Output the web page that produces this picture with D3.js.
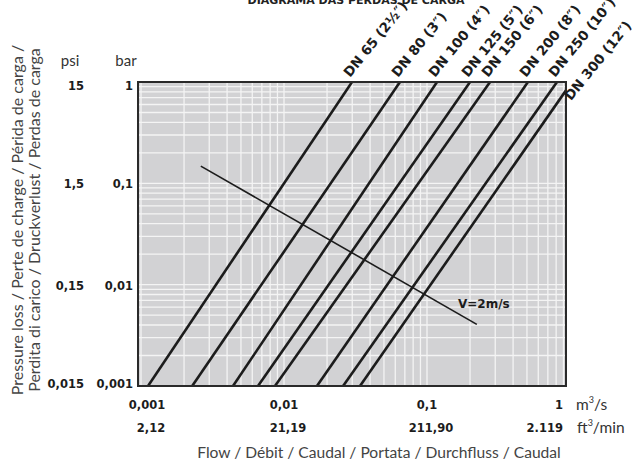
<!DOCTYPE html>
<html>
<head>
<meta charset="utf-8">
<script src="https://cdn.jsdelivr.net/npm/d3@7"></script>
<style>
  html, body { margin: 0; padding: 0; background: #fff; }
  svg { display: block; font-family: Lato, "Noto Sans", sans-serif; }
  .bold { font-family: "DejaVu Sans", sans-serif; font-weight: 700; }
</style>
</head>
<body>
<svg id="chart" width="641" height="460"></svg>
<script>
// Pipe sizes and the flow (m³/s) each one carries at the lowest and highest pressure loss shown
const categories = ["DN 65 (2¹⁄₂″)", "DN 80 (3″)", "DN 100 (4″)", "DN 125 (5″)",
                    "DN 150 (6″)", "DN 200 (8″)", "DN 250 (10″)", "DN 300 (12″)"];
const lossEnds = [0.001, 1]; // bar
const flowAtLowLoss  = [0.00112, 0.00228, 0.00440, 0.00658, 0.00865, 0.0170, 0.0259, 0.0340];
const flowAtHighLoss = [0.0299, 0.0647, 0.1175, 0.200, 0.276, 0.508, 0.811, 1.03];

// Constant-velocity guide (2 m/s)
const velocityFlow = [0.00262, 0.223];
const velocityLoss = [0.148, 0.00406];
const velocityLabel = "V=2m/s";

// Axis ticks and their labels
const barTicks = [1, 0.1, 0.01, 0.001];
const barLabels = ["1", "0,1", "0,01", "0,001"];
const psiLabels = ["15", "1,5", "0,15", "0,015"];
const flowTicks = [0.001, 0.01, 0.1, 1];
const m3sLabels = ["0,001", "0,01", "0,1", "1"];
const ftLabels = ["2,12", "21,19", "211,90", "2.119"];

const svg = d3.select("#chart");
const plot = { left: 138, right: 566, top: 82, bottom: 386 };

const x = d3.scaleLog().domain([0.001, 1]).range([141, 570]);
const y = d3.scaleLog().domain([0.001, 1]).range([plot.bottom, plot.top]);

// background
svg.append("defs").append("clipPath").attr("id", "plotClip")
  .append("rect")
  .attr("x", plot.left).attr("y", plot.top)
  .attr("width", plot.right - plot.left).attr("height", plot.bottom - plot.top);

svg.append("rect")
  .attr("x", plot.left).attr("y", plot.top)
  .attr("width", plot.right - plot.left).attr("height", plot.bottom - plot.top)
  .attr("fill", "#d2d2d4");

const g = svg.append("g").attr("clip-path", "url(#plotClip)");

// logarithmic grid: 1..9 in every decade
const xGrid = [];
const yGrid = [];
for (let e = -4; e <= 0; e++) {
  for (let m = 1; m <= 9; m++) {
    xGrid.push(m * Math.pow(10, e));
    yGrid.push(m * Math.pow(10, e));
  }
}
g.selectAll("line.vgrid").data(xGrid).join("line")
  .attr("class", "vgrid")
  .attr("x1", d => x(d)).attr("x2", d => x(d))
  .attr("y1", plot.top).attr("y2", plot.bottom)
  .attr("stroke", "#f4f4f4").attr("stroke-width", 1.3);
g.selectAll("line.hgrid").data(yGrid).join("line")
  .attr("class", "hgrid")
  .attr("x1", plot.left).attr("x2", plot.right)
  .attr("y1", d => y(d)).attr("y2", d => y(d))
  .attr("stroke", "#f4f4f4").attr("stroke-width", 1.3);

// pipe lines
const pipes = categories.map((name, i) => ({
  name, q0: flowAtLowLoss[i], q1: flowAtHighLoss[i]
}));
g.selectAll("line.pipe").data(pipes).join("line")
  .attr("class", "pipe")
  .attr("x1", d => x(d.q0)).attr("y1", y(lossEnds[0]))
  .attr("x2", d => x(d.q1)).attr("y2", y(lossEnds[1]))
  .attr("stroke", "#1c1c1c").attr("stroke-width", 2.6);

// velocity guide
g.append("line")
  .attr("x1", x(velocityFlow[0])).attr("y1", y(velocityLoss[0]))
  .attr("x2", x(velocityFlow[1])).attr("y2", y(velocityLoss[1]))
  .attr("stroke", "#1c1c1c").attr("stroke-width", 1.6);

svg.append("text").attr("class", "bold")
  .attr("x", 458).attr("y", 308)
  .attr("font-size", 12).attr("fill", "#1c1c1c")
  .text(velocityLabel);

// frame
svg.append("rect")
  .attr("x", plot.left).attr("y", plot.top)
  .attr("width", plot.right - plot.left).attr("height", plot.bottom - plot.top)
  .attr("fill", "none").attr("stroke", "#2a2a2a").attr("stroke-width", 2);

// pipe labels, placed where each line leaves the plot
pipes.forEach(d => {
  const x0 = x(d.q0), y0 = y(lossEnds[0]);
  const x1 = x(d.q1), y1 = y(lossEnds[1]);
  let px, py, dx, dy;
  if (x1 <= plot.right) {
    px = x1; py = y1; dx = -2; dy = -4;
  } else {
    const t = (plot.right - x0) / (x1 - x0);
    px = plot.right; py = y0 + t * (y1 - y0); dx = 5; dy = 11;
  }
  svg.append("text").attr("class", "bold")
    .attr("transform", `translate(${px + dx},${py + dy}) rotate(-51)`)
    .attr("font-size", 13.5).attr("fill", "#1c1c1c")
    .text(d.name);
});

// title (runs off the top edge)
svg.append("text").attr("class", "bold")
  .attr("x", 356).attr("y", 4)
  .attr("text-anchor", "middle")
  .attr("font-size", 11).attr("fill", "#222")
  .text("DIAGRAMA DAS PERDAS DE CARGA");

// left scales: bar and psi
svg.append("text").attr("x", 70).attr("y", 66).attr("text-anchor", "middle")
  .attr("font-size", 15).attr("fill", "#333").text("psi");
svg.append("text").attr("x", 126).attr("y", 66).attr("text-anchor", "middle")
  .attr("font-size", 15).attr("fill", "#333").text("bar");

barTicks.forEach((v, i) => {
  const ty = Math.min(Math.max(y(v), plot.top + 3), plot.bottom - 3) + 5;
  svg.append("text").attr("class", "bold").attr("x", 133).attr("y", ty).attr("text-anchor", "end")
    .attr("font-size", 11.5).attr("fill", "#1c1c1c")
    .text(barLabels[i]);
  svg.append("text").attr("class", "bold").attr("x", 84).attr("y", ty).attr("text-anchor", "end")
    .attr("font-size", 11.5).attr("fill", "#1c1c1c")
    .text(psiLabels[i]);
});

// bottom scales: m³/s and ft³/min
flowTicks.forEach((v, i) => {
  const cx = Math.min(Math.max(x(v), 147), 560);
  const last = i === flowTicks.length - 1;
  svg.append("text").attr("class", "bold").attr("x", last ? 563 : cx).attr("y", 409)
    .attr("text-anchor", last ? "end" : "middle")
    .attr("font-size", 11.5).attr("fill", "#1c1c1c")
    .text(m3sLabels[i]);
  svg.append("text").attr("class", "bold").attr("x", last ? 563 : cx + 4).attr("y", 432)
    .attr("text-anchor", last ? "end" : "middle")
    .attr("font-size", 11.5).attr("fill", "#1c1c1c")
    .text(ftLabels[i]);
});

const unit1 = svg.append("text").attr("x", 576).attr("y", 410)
  .attr("font-size", 15.5).attr("fill", "#333");
unit1.append("tspan").text("m");
unit1.append("tspan").attr("font-size", 9).attr("dy", -7).text("3");
unit1.append("tspan").attr("dy", 7).text("/s");

const unit2 = svg.append("text").attr("x", 577).attr("y", 433)
  .attr("font-size", 15.5).attr("fill", "#333");
unit2.append("tspan").text("ft");
unit2.append("tspan").attr("font-size", 9).attr("dy", -7).text("3");
unit2.append("tspan").attr("dy", 7).text("/min");

// axis titles
svg.append("text").attr("x", 379).attr("y", 458).attr("text-anchor", "middle")
  .attr("font-size", 15.6).attr("fill", "#444")
  .text("Flow / Débit / Caudal / Portata / Durchfluss / Caudal");

svg.append("text")
  .attr("transform", "translate(23,220) rotate(-90)")
  .attr("text-anchor", "middle")
  .attr("font-size", 16).attr("fill", "#444")
  .text("Pressure loss / Perte de charge / Périda de carga /");
svg.append("text")
  .attr("transform", "translate(40,220) rotate(-90)")
  .attr("text-anchor", "middle")
  .attr("font-size", 16).attr("fill", "#444")
  .text("Perdita di carico / Druckverlust / Perdas de carga");
</script>
</body>
</html>
